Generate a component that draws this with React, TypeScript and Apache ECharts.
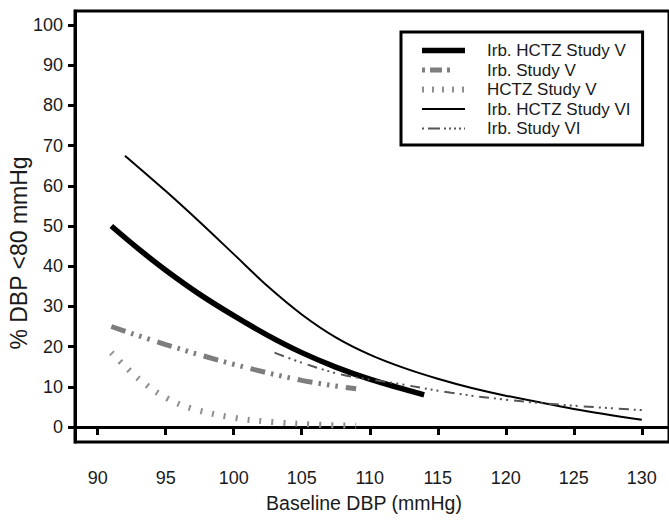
import React, { useEffect, useRef } from "react";
import * as echarts from "echarts";

const xTicks = [90, 95, 100, 105, 110, 115, 120, 125, 130];
const yTicks = [0, 10, 20, 30, 40, 50, 60, 70, 80, 90, 100];

const irbHctzVX = [91, 93, 95, 97.5, 100, 102.5, 105, 107.5, 110, 114];
const irbHctzVY = [50, 44.3, 39, 33, 27.7, 22.8, 18.5, 14.9, 11.9, 8];

const irbVX = [91, 95, 100, 105, 109];
const irbVY = [25, 20.5, 15.6, 11.6, 9.5];

const hctzVX = [91, 93, 95, 97, 100, 103, 106, 109];
const hctzVY = [18.5, 12, 7.3, 4.5, 2.3, 1.2, 0.6, 0.3];

const irbHctzVIX = [92, 95, 97.5, 100, 102.5, 105, 107.5, 110, 112.5, 115, 117.5, 120, 125, 130];
const irbHctzVIY = [67.5, 58.7, 51, 43, 35, 28, 22.3, 18, 14.7, 12, 9.7, 7.8, 4.5, 1.8];

const irbVIX = [103, 105, 108, 112, 116, 120, 125, 130];
const irbVIY = [18.5, 16, 13, 10.8, 8.5, 6.8, 5.3, 4.2];

const seriesNames = [
  "Irb. HCTZ Study V",
  "Irb. Study V",
  "HCTZ Study V",
  "Irb. HCTZ Study VI",
  "Irb. Study VI",
];

const FONT = "Liberation Sans, Arial, Helvetica, sans-serif";

const styles = [
  { color: "#000", width: 5.5, type: "solid" as any },
  { color: "#7d7d7d", width: 5, type: [15, 6, 2.5, 6, 2.5, 6, 2.5, 8] },
  { color: "#8f8f8f", width: 6, type: [2, 10] },
  { color: "#000", width: 2, type: "solid" as any },
  { color: "#555", width: 2, type: [10, 5, 2, 4, 2, 4, 2, 6] },
];

const legendDash = [
  "solid",
  [3, 5, 12, 5, 3, 15],
  [2, 8],
  "solid",
  [2, 4, 12, 4, 2, 3, 2, 3, 2, 3, 2, 3],
];

const pairs = (xs: number[], ys: number[]) => xs.map((x, i) => [x, ys[i]]);

export default function App() {
  const ref = useRef<HTMLDivElement>(null);
  useEffect(() => {
    if (!ref.current) return;
    const chart = echarts.init(ref.current, null, { renderer: "svg" });
    const datas = [
      pairs(irbHctzVX, irbHctzVY),
      pairs(irbVX, irbVY),
      pairs(hctzVX, hctzVY),
      pairs(irbHctzVIX, irbHctzVIY),
      pairs(irbVIX, irbVIY),
    ];
    chart.setOption({
      animation: false,
      backgroundColor: "#fff",
      textStyle: { fontFamily: FONT },
      grid: {
        left: 75,
        top: 11,
        right: -8.6,
        bottom: 79,
        show: true,
        borderColor: "#000",
        borderWidth: 3,
      },
      xAxis: {
        type: "value",
        min: 88.33,
        max: 132,
        axisLine: { show: true, lineStyle: { color: "#000", width: 3 } },
        axisTick: {
          show: true,
          length: 8,
          lineStyle: { color: "#000", width: 3 },
          customValues: xTicks,
        },
        axisLabel: {
          customValues: xTicks,
          fontSize: 18,
          color: "#1a1a1a",
          margin: 27,
          fontFamily: FONT,
        },
        splitLine: { show: false },
      },
      yAxis: {
        type: "value",
        min: -3.73,
        max: 103.48,
        axisLine: { show: true, lineStyle: { color: "#000", width: 3 } },
        axisTick: {
          show: true,
          length: 7,
          lineStyle: { color: "#000", width: 3 },
          customValues: yTicks,
        },
        axisLabel: {
          customValues: yTicks,
          fontSize: 18,
          color: "#1a1a1a",
          margin: 12,
          fontFamily: FONT,
        },
        splitLine: { show: false },
      },
      legend: {
        orient: "vertical",
        left: 401,
        top: 32,
        padding: [10, 12, 8, 18],
        itemWidth: 43,
        itemHeight: 14,
        itemGap: 2.5,
        borderColor: "#000",
        borderWidth: 3,
        backgroundColor: "#fff",
        itemStyle: { opacity: 0 },
        textStyle: {
          fontSize: 17,
          color: "#1a1a1a",
          fontFamily: FONT,
          padding: [0, 0, 0, 17],
        },
        data: seriesNames.map((n, i) => ({
          name: n,
          itemStyle: { opacity: 0 },
          lineStyle: {
            color: styles[i].color,
            width: styles[i].width,
            type: legendDash[i],
            cap: "butt",
          },
        })),
      },
      graphic: [
        {
          type: "text",
          x: 364,
          y: 503,
          style: {
            text: "Baseline DBP (mmHg)",
            fontSize: 19.5,
            fontFamily: FONT,
            fill: "#1a1a1a",
            align: "center",
            verticalAlign: "middle",
          },
        },
        {
          type: "text",
          x: 19,
          y: 253,
          rotation: Math.PI / 2,
          style: {
            text: "% DBP <80 mmHg",
            fontSize: 23,
            fontFamily: FONT,
            fill: "#1a1a1a",
            align: "center",
            verticalAlign: "middle",
          },
        },
      ],
      series: seriesNames.map((n, i) => ({
        name: n,
        type: "line",
        data: datas[i],
        smooth: 0.35,
        symbol: "none",
        showSymbol: false,
        lineStyle: {
          color: styles[i].color,
          width: styles[i].width,
          type: styles[i].type,
          cap: "butt",
        },
        itemStyle: { color: styles[i].color },
        z: 3,
      })),
    });
    return () => chart.dispose();
  }, []);
  return (
    <div
      ref={ref}
      style={{ position: "absolute", left: 0, top: 0, width: 669, height: 521 }}
    />
  );
}
